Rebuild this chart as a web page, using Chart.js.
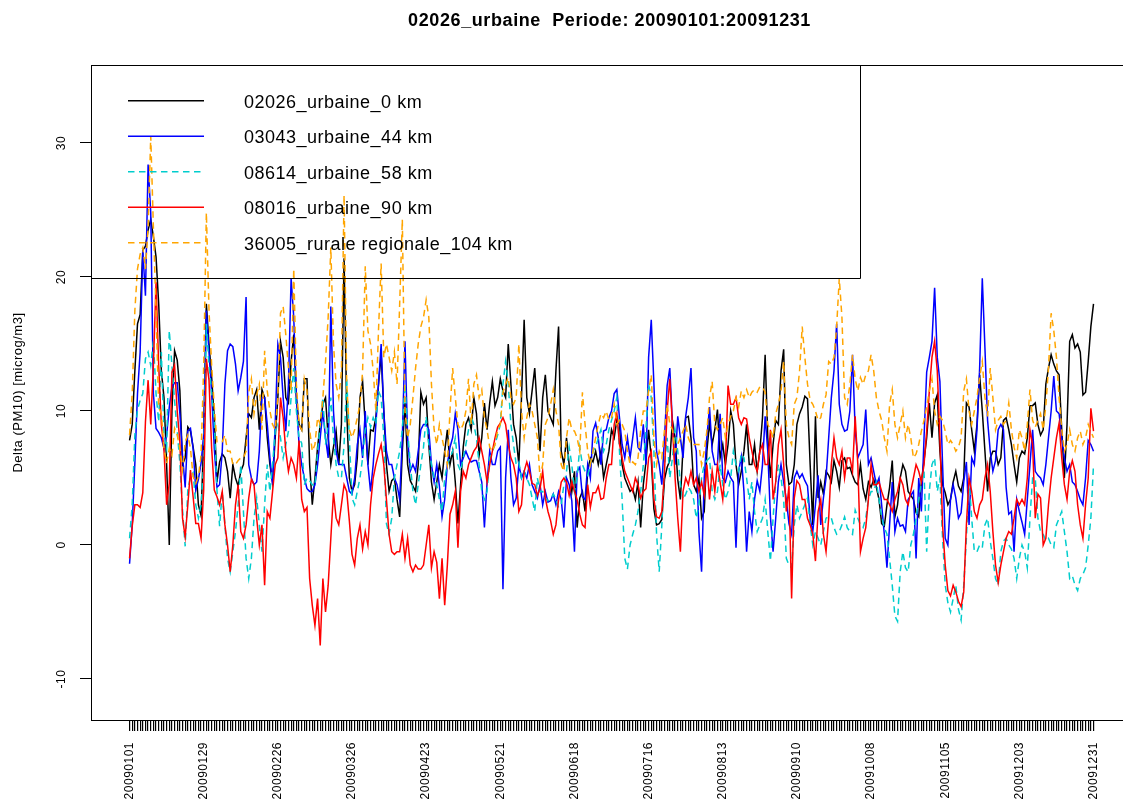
<!DOCTYPE html>
<html>
<head>
<meta charset="utf-8">
<script src="https://cdn.jsdelivr.net/npm/chart.js@4.4.1/dist/chart.umd.min.js"></script>
<style>
  html, body { margin: 0; padding: 0; background: #ffffff; overflow: hidden; }
  #wrap { position: absolute; left: 0; top: 0; width: 1156px; height: 800px; }
</style>
</head>
<body>
<div id="wrap"><canvas id="c" width="1156" height="800"></canvas></div>
<script>
// Daily PM10 deltas, 1 Jan 2009 .. 31 Dec 2009 (365 values per station)
const station02026 = [
  7.8, 9, 13, 16.5, 17.2, 22, 22.3, 23.5, 24.3, 23, 21.5, 18, 13, 11, 6, 0, 10, 14.5, 13.8, 11.5, 6, 6.5, 8.8, 8.5, 7.3, 6, 3, 2.2, 8, 18, 15, 12.5, 9.5, 4.7, 6.2, 6.8,
  6.5, 5.5, 3.5, 6, 5, 4.4, 5.5, 6, 8, 9.8, 9.5, 11, 11.6, 8.6, 11.6, 11, 8, 6, 4.7, 8, 11, 15.2, 14, 11, 10.6, 13.7, 15.7, 11, 9, 8.6, 12.4, 12.4, 6, 3, 5,
  7.3, 9, 10.5, 11, 8, 6, 7.3, 8.5, 6, 9, 21.4, 10, 5, 4, 4.5, 6.5, 11, 12.2, 9, 6, 8.6, 8.5, 9.5, 12, 14.2, 10, 6, 4, 4.8, 5, 3.4, 2.1, 7, 10.6, 6, 4.8,
  4.4, 4, 6, 11.4, 10.5, 11, 7.5, 4.7, 3.4, 4.7, 6, 5, 7, 8.6, 6, 7, 4.7, 1.6, 4.5, 7.3, 9, 9.5, 8.6, 11, 9.8, 6.7, 8, 10.6, 8.6, 10.6, 12.2, 10.4, 11, 12.4, 11.5, 11,
  15, 12, 9, 8, 6, 11, 16.8, 11, 9.8, 11.5, 13.2, 10, 7, 11, 12.7, 10, 9.5, 9, 13, 16.3, 7, 6, 8, 6, 4, 5.5, 1.3, 3.5, 4, 2.5, 5.5, 6.5, 6.2, 7, 6, 7,
  5, 6, 7, 8.6, 8, 9.3, 9, 6, 5, 4.5, 4, 4.2, 3.4, 4.7, 1.3, 4.5, 6.2, 8.6, 6.5, 2.7, 1.5, 1.6, 1.9, 4.9, 5.8, 6.3, 9.3, 8, 4.9, 3.4, 7.3, 9.5, 9.6, 8, 4.5, 4,
  5, 2, 2.5, 7, 9.1, 7.5, 8.6, 10.1, 6.5, 7.5, 6, 7.5, 10, 9, 6, 4.5, 5.5, 7, 9, 6, 6, 7.5, 5.5, 7, 9.5, 14.2, 8, 5, 7.5, 9.3, 9, 13, 14.6, 6, 4.5, 4.7,
  6, 9, 9.8, 10.3, 11.1, 10.9, 6, 1.5, 9.6, 3.5, 4.7, 3.8, 5.5, 5.2, 4.7, 6.3, 5.5, 4.3, 6.3, 6.5, 5.7, 5.8, 5.2, 4.7, 4.5, 6, 4.2, 3.4, 4.7, 4.3, 4.9, 4.3, 3.4, 1.6, 1.4, 3,
  4.3, 6.3, 2.1, 3, 5, 6, 5.5, 4, 3.7, 3.4, 2.4, 2.1, 4.7, 6.3, 8, 10.6, 8, 10.6, 11.2, 7, 4.5, 3.9, 3, 3.4, 4.7, 5.5, 4.4, 4, 5, 10.6, 10.3, 8.6,
  7, 9, 12.7, 10, 7, 4, 6.5, 7, 7, 6, 6.5, 9.3, 9.5, 8.6, 7.5, 6, 4.7, 6.5, 7, 6.8, 8, 10.4, 10.4, 10.6, 9, 8.2, 8.6, 12, 13.2, 14.2, 13.5, 13, 12.7, 8.6, 5, 9, 15.2, 15.7, 14.7, 15, 14.4, 11.2, 11.4, 13.7, 16.3, 18
];
const station03043 = [
  -1.4, 1.5, 6.1, 11.3, 14.4, 22, 18.6, 28.4, 24.8, 11.3, 8.7, 8.4, 8, 7.2, 8.2, 10.3, 11.8, 12.1, 12.1, 9.8, 6.7, 4.3, 8.5, 8.7, 7.2, 4.1, 4.9, 6.1, 8.2, 17.5, 14.4, 11.3, 7.2, 4.3, 4.5, 7,
  12, 14.5, 15, 14.8, 13.5, 11.5, 12.5, 13.7, 18.5, 6, 5, 4.5, 4.7, 7, 11, 11, 9, 6.5, 4.5, 9, 15, 14, 11, 8.5, 12, 19.9, 17, 11, 7.5, 6, 5, 4.2, 4, 4, 4.5,
  6, 8, 10, 8, 6.5, 17.8, 10, 7, 6, 6, 6, 5, 4, 3.8, 5, 7.5, 8.6, 6.5, 10, 6, 4, 6, 9, 12, 15, 10, 7, 6, 6, 5, 4.5, 3.4, 8, 15.2, 8, 5.5,
  6, 5.5, 7, 8.6, 9, 9, 8.6, 6, 4.7, 6, 4.4, 2.1, 3.4, 6, 7.3, 8, 9.8, 8.6, 6, 6.5, 7, 6.5, 6.2, 6.3, 6.3, 5.5, 4.7, 1.3, 4.7, 7, 6, 6, 7, 7.3, -3.3, 5,
  8.6, 5, 3, 3.5, 6, 5, 5.5, 5, 6, 4.5, 4, 3.5, 4.5, 3, 4, 3.2, 3.3, 3.8, 3, 4, 3.4, 1.3, 5, 4.5, 3.3, -0.5, 5.5, 5.8, 3.6, 3.4, 6, 5, 8.5, 9.1, 8, 6,
  8.5, 8.6, 9.5, 10, 11.3, 11.6, 9.5, 7.5, 6.5, 8, 6.5, 8, 9.5, 7.3, 7, 9, 6, 14, 16.8, 12, 7, 6, 4.5, 8, 11.9, 13.2, 9, 6, 9.6, 8, 6.5, 9.6, 11, 13.2, 8, 7,
  1, -2, 5, 8, 10.3, 7, 6, 6, 9.8, 5, 4.7, 5.5, 5, 4.7, -0.2, 5.5, 6.6, 4, -0.5, 2.5, 1, 3.4, 4.8, 4, 6, 9.6, 7, 2.1, -0.5, 2, 4.7, 6, 4.7, 3.4, 1.6, 0.8,
  5, 5.5, 5, 5.3, 4.8, 4.4, 2, 1, 3, 5.2, 1.5, 3.5, 5, 8, 11, 13, 16.5, 10.5, 9, 8.5, 8.6, 10, 14.2, 8.6, 6.5, 7, 7.5, 10.1, 6, 6.5, 5.5, 4.5, 5, 3, 0.8, -1.7,
  1.5, 4.7, 1, 2, 1.4, 1.5, 1, 3.4, 3.7, 4, -1, 5, 2.5, 8, 12.9, 14, 15.2, 19.2, 14, 12.2, 6, 0.5, 0, 3.4, 4.5, 3.5, 2, 2.4, 4.7, 6.2, 1.5, 6.5,
  6, 8.6, 13.2, 19.9, 14.7, 9.3, 7, 5.5, 6.3, 8.6, 9, 8.6, 4.3, 2.3, 2.5, -0.5, 3.4, 2.5, 1.7, 0.8, 3.4, 6, 8.6, 5.5, 5.2, 5, 4.5, 6, 8, 10, 12.6, 10, 9.8, 8, 6.5, 5.5, 6, 4.7, 4.5, 4, 3.4, 3, 5, 7.8, 7.5, 7
];
const station08614 = [
  0.5, 3, 8.2, 10.1, 10.8, 11.3, 13.9, 14.4, 13.4, 15.2, 11.3, 9.2, 14.4, 8.2, 7.2, 16, 13.4, 10.8, 8.5, 6.1, 2.6, -0.1, 4.1, 5.1, 5.4, 3, 2, 3, 6.1, 16.5, 13.4, 11.3, 9.2, 4.1, 1.4, 4,
  1.5, -1, -2, -0.5, 1, 3, 6, 2.5, -1, -2.5, -1, 2, 3.5, 1.5, -0.5, 3, 6, 4, 6, 8.5, 9, 8, 6.5, 7.5, 8.5, 11, 13.2, 10, 8, 7.6, 4.5, 5, 4.8, 4.5, 4.4,
  7, 9, 11, 7.5, 9, 11, 8, 6, 5, 5, 7.5, 12.4, 8, 3.5, 3, 4, 5, 6.5, 8.6, 9.5, 8.8, 9.5, 9, 11.5, 11, 8, 1.6, 0.8, 2, 5, 6, 7, 8.6, 12, 8.6, 6,
  4, 3, 4.5, 6, 7.3, 9.6, 7.5, 6, 5, 4.5, 3.4, 2.5, 5, 6, 6.5, 7, 8, 6, 5.5, 6.5, 7.5, 8.6, 9.6, 9, 8, 6, 4, 3.4, 4, 6.5, 7, 7.5, 8.2, 9, 12, 13.7,
  12, 9, 7.5, 6, 6.2, 5, 5.5, 5, 4.5, 3.5, 2.5, 5, 4, 4, 3.5, 3.3, 3.4, 3.8, 3.4, 2.8, 3, 4.5, 5.5, 7.3, 6, 4, 5, 7.3, 6, 5.5, 5.2, 6, 7, 7.3, 8, 8.6,
  7, 7.5, 8.6, 9.3, 10, 11, 7, 3.4, -1, -1.8, 0, 0.8, 1.5, 2.5, 4, 6, 8.6, 12, 11, 7, 0.8, -2, 1.5, 6, 8, 5, 6.5, 8.6, 7, 4.5, 3.4, 3.8, 4.3, 4, 3.4, 2,
  3, 5, 6, 6.3, 6.5, 4, 3.4, 4, 6, 4.5, 3.4, 4, 5, 7, 6, 5.5, 6.8, 6.5, 5, 3.4, 4.7, 2.5, 1, 1.5, 2, 3.4, 1, -1.2, 2, 4.7, 6, 5, 3.4, -1, -1.5, -1.7,
  1.5, 3, 2, 2.5, 3, 3.5, 1.5, 0, 1, 0.5, 0, 1, 2, 2.1, 2, 1.3, 0.8, 1, 1.5, 2.1, 1.3, 1, 0.8, 2.6, 2, 1.5, 1.3, 2, 3.4, 4, 4, 4.7, 3.4, 2.1, 1.3, 0.8,
  -1, -3, -5.3, -5.7, -2, -0.5, -1.7, -2, 0, 0.8, 2, 3.4, 4.7, 5.5, -0.5, 4, 6, 6.5, 4, 5, 0.5, -3, -4.3, -5, -4, -3, -4.8, -5.6, -3, 0.5, 5, 2,
  -0.5, -0.5, 0, -0.2, 1.5, 2, 0.3, -1, -2.5, -3, -0.5, 0.3, 0.5, 0, -0.3, -1, -2.5, -1, 0, -0.5, -1.7, 2, 5, 5, 2, 1, 0.8, 0.3, 0.5, 0, -0.2, 1.5, 2, 2.5, 1, -0.5, -2.5, -2.3, -3, -3.4, -2.5, -2.2, -1.7, 0, 2, 6
];
const station08016 = [
  -1, 1.4, 3, 3, 2.8, 3.9, 9.2, 12.3, 9, 13.4, 19.6, 13.4, 9, 7.1, 3, 4.6, 12.9, 13.4, 10, 7.7, 2, 0.6, 3, 5.6, 3.6, 1.6, 1.6, 0.5, 4.1, 13.9, 12.3, 7.2, 4.1, 3.6, 3, 4,
  1.5, 0, -2, 0, 3, 4.5, 1, 0.5, 1.5, 3.5, 4.9, 4.5, 2, 0, 1.5, -3, 2.5, 2, 4, 6, 6.5, 11, 9.5, 7, 5.5, 6.5, 6, 5, 7.8, 3.4, 2.5, 2.8, -2.5, -4.5, -6,
  -4, -7.5, -2.5, -5, -3, 0.5, 3.9, 2, 1.5, 3, 4.5, 4, 1.8, -0.7, -1.5, 0.5, 1.5, -0.3, 1, 0, 3, 5, 6, 6.8, 7.5, 6, 3.4, 0.8, -0.5, -0.7, -0.5, -0.5, 0.8, -1, 0.5, -1.5,
  -2, -1.5, -1.8, -1.8, -1.5, 0, 1.5, -1.7, -0.5, -1.3, -4, -1, -4.5, -1.5, 2.3, 3, 4, -0.2, 4, 5.5, 5, 6, 6.5, 7, 7.3, 8, 7, 6, 4.7, 6, 7, 8, 8.8, 9.1, 9.5, 9,
  7.5, 6.5, 6, 5, 2.5, 3, 5.5, 6.2, 5.5, 4.6, 4.5, 3.7, 4.2, 5.5, 3.5, 2.5, 1.8, 0.8, 1.5, 3.4, 4.7, 5, 4.7, 3.7, 4.7, 4, 3.4, 2.3, 1.5, 1.3, 4.5, 2.8, 3.9, 3.9, 4.4, 3.4,
  3.5, 5, 6, 6, 9, 9.8, 7.5, 6.5, 5.5, 5, 4.5, 4, 5, 4.5, 3.5, 4, 4.2, 6.5, 7, 3.4, 2.1, 2, 2.5, 5.5, 10, 12.4, 9, 5, 2, -0.5, 4, 5, 4.5, 5.5, 4.5, 5,
  4, 4.7, 3.7, 6, 3.4, 5.5, 4, 6, 4.7, 3.4, 6, 11.9, 10.5, 10.5, 11, 9.5, 9, 9.5, 9.4, 8, 7, 6, 5.5, 7, 7.5, 6, 6, 8.6, 3.4, 4.7, 7.5, 8.6, 6, 2.5, 4.4, -4,
  3.5, 4.8, 4.5, 3.4, 3.4, 2, 1.5, 0.8, -1.2, 2.5, 3.4, 0.8, -0.5, 2, 6, 8, 6.5, 6, 7, 5, 6.5, 6.5, 5.5, 9.6, 6, -0.5, 0.5, 1.3, 3.4, 6, 4.5, 4.5, 4.7, 4, 3.4, 3.4,
  3, 2.5, 3.4, 4, 5, 4.5, 3.4, 3, 4, 5, 6, 5.5, 4.7, 6, 8.5, 11.5, 14, 15.2, 13, 8, 1.5, -1.5, -3.4, -3.8, -3, -3.5, -4.2, -4.6, -3.5, 1.5, 5, 4,
  2.5, 2, 3, 3.4, 5, 6, 4, 1, -1.5, -2.8, -1.5, -0.5, 0.5, 1, 0.8, 2, 3.4, 3, 3.4, 3, 5, 8.6, 7.5, 2, 3.8, 3.5, 0, 0.5, 3, 5, 6.5, 8, 9.1, 6.5, 4.5, 3.4, 5.5, 6.3, 5.5, 3, 1.5, 0.5, 3, 5, 10.2, 8.5
];
const station36005 = [
  8.2, 11.3, 17.5, 20.6, 21.7, 22.2, 20.6, 23.7, 30.5, 23.7, 17.5, 10.3, 9.8, 7.2, 6.1, 7.2, 6.7, 8.7, 8.2, 7.2, 5.6, 7.7, 8.2, 7.2, 5.1, 4.6, 5.1, 6.7, 13.4, 24.8, 17.5, 13.4, 10.3, 7.7, 7.7, 7.7,
  8.2, 7, 7, 6, 6, 6.3, 6.5, 6.5, 7, 11.4, 12.4, 9.8, 11.2, 12, 8.6, 14.5, 11.5, 10, 9, 8.6, 11, 17.3, 17.8, 15.7, 13.2, 11.5, 20.6, 12, 9, 8.6, 12.4, 11.5, 8.6, 7, 7.5,
  9.5, 9, 11, 13.7, 17, 22.2, 15, 12, 11, 13, 26.1, 12, 8.6, 8, 8.6, 9.5, 10.5, 13, 20.8, 16, 15, 13, 10, 16, 21, 14, 15, 14, 13, 14.4, 12, 18, 24.3, 10, 8, 9,
  11, 13.2, 15, 16.3, 17, 18.3, 17, 12, 8.6, 7.5, 9, 8, 7, 6, 10, 13.2, 11, 9, 8.6, 9, 10, 12.4, 9, 12, 12.7, 11, 11.6, 9.5, 8.6, 7.3, 7, 7.5, 8.6, 9, 11.4, 12,
  12.5, 11, 10.5, 11, 15, 10, 8, 9.5, 10.5, 10, 9, 8, 5, 6, 9, 9.5, 10.5, 11.6, 10, 9, 6, 5.5, 8, 9.5, 8.6, 8.5, 8, 7, 11.4, 9, 7, 6, 7, 8, 9, 9.8,
  9.5, 10, 9.3, 9.5, 10.5, 9, 9.3, 9, 8.5, 7, 6, 6.2, 6, 6.5, 8.6, 10, 10, 11.5, 12.7, 8, 6, 7, 6.5, 8.6, 10.5, 9, 8.6, 7, 7.5, 8, 8.5, 9, 8, 7.5, 7.5, 7.5,
  7.5, 6, 7, 8.5, 11, 12.2, 9, 8.6, 9, 9.5, 8, 9, 9.6, 10, 11, 10.3, 11.5, 11, 11.6, 11, 11.4, 11.6, 11.4, 11.8, 11.8, 11.4, 9, 8.6, 8, 9.8, 10.5, 11.5, 13.7, 9, 8, 7.5,
  10.5, 11, 13, 16.3, 14, 12, 10.8, 10.5, 10, 9.3, 9.5, 10.5, 11.2, 13.7, 13.5, 14, 16.3, 19.9, 17, 11, 10.5, 12, 14.2, 12.4, 11.5, 12.5, 12, 12.7, 13, 14.2, 13, 11, 10, 9.3, 8, 7,
  10.5, 11.6, 9, 8, 9, 10, 8, 9, 8, 6.5, 6.8, 7.5, 8.5, 9.3, 10.3, 11.5, 12.4, 10, 9, 9.6, 9.3, 8.5, 7.5, 7.8, 7.5, 7, 7.3, 8, 11.5, 12.4, 10, 9,
  10, 11, 12.5, 13.7, 11, 9.6, 13.2, 11, 8.6, 9.3, 9.6, 9, 9.3, 10.6, 8.6, 7.3, 6.5, 8.6, 8, 7, 9, 11.6, 9.3, 8.8, 9.3, 9.8, 8.6, 10.4, 13.2, 17.3, 16, 14, 11, 8.6, 7, 7.5, 8.6, 7.5, 7, 8, 8.5, 7.5, 8, 9, 8.5, 8
];

const seriesNames = [
  '02026_urbaine_0 km',
  '03043_urbaine_44 km',
  '08614_urbaine_58 km',
  '08016_urbaine_90 km',
  '36005_rurale regionale_104 km'
];
// Labelled dates, one every 28 days starting on day 0
const tickLabels = [
  '20090101', '20090129', '20090226', '20090326', '20090423', '20090521', '20090618',
  '20090716', '20090813', '20090910', '20091008', '20091105', '20091203', '20091231'
];
const chartTitle = '02026_urbaine  Periode: 20090101:20091231';
const yTitle = 'Delta (PM10) [microg/m3]';

const stations = [station02026, station03043, station08614, station08016, station36005];
stations.forEach((s, i) => {
  if (s.length !== 365) throw new Error(seriesNames[i] + ' has ' + s.length + ' values');
});

const styles = [
  { color: '#000000', dash: [] },
  { color: '#0000ff', dash: [] },
  { color: '#00cdcd', dash: [6.5, 4.5] },
  { color: '#ff0000', dash: [] },
  { color: '#ffa500', dash: [6.5, 4.5] }
];

const FONT = '"Liberation Sans", Arial, Helvetica, sans-serif';
const LAST_DAY = 364;
const LABEL_STEP = 28;
const LINE_W = 1.5;

function isDay(v) {
  return v !== undefined && Math.abs(v - Math.round(v)) < 1e-6 && v >= -1e-6 && v <= LAST_DAY + 1e-6;
}
function dayLabel(v) {
  if (!isDay(v)) return '';
  const d = Math.round(v);
  return d % LABEL_STEP === 0 ? tickLabels[d / LABEL_STEP] : '';
}

const datasets = stations.map((vals, i) => ({
  label: seriesNames[i],
  data: vals.map((v, d) => ({ x: d, y: v })),
  borderColor: styles[i].color,
  borderDash: styles[i].dash,
  borderWidth: LINE_W,
  pointRadius: 0,
  tension: 0,
  fill: false,
  order: stations.length - i
}));

// Text spacing close to the original device fonts
const spacing = {
  id: 'spacing',
  beforeDraw(chart) { chart.ctx.letterSpacing = '0.5px'; }
};

// Plot frame, main title and the boxed key in the upper-left corner
const frame = {
  id: 'frame',
  afterDraw(chart) {
    const { ctx, chartArea: a } = chart;
    ctx.save();
    ctx.strokeStyle = '#000';
    ctx.lineWidth = 1;
    ctx.setLineDash([]);
    ctx.strokeRect(Math.round(a.left) + 0.5, Math.round(a.top) + 0.5,
                   Math.round(a.right - a.left), Math.round(a.bottom - a.top));

    ctx.fillStyle = '#000';
    ctx.letterSpacing = '0.6px';
    ctx.font = 'bold 18px ' + FONT;
    ctx.textAlign = 'center';
    ctx.textBaseline = 'alphabetic';
    ctx.fillText(chartTitle, (a.left + a.right) / 2 - 2, 25.5);

    const boxL = Math.round(a.left) + 0.5, boxT = Math.round(a.top) + 0.5;
    const boxW = 769, boxH = 213;
    ctx.beginPath();
    ctx.moveTo(boxL, boxT + boxH);
    ctx.lineTo(boxL + boxW, boxT + boxH);
    ctx.lineTo(boxL + boxW, boxT);
    ctx.stroke();

    ctx.font = '18px ' + FONT;
    ctx.letterSpacing = '0.5px';
    ctx.textAlign = 'left';
    seriesNames.forEach((name, i) => {
      const y = a.top + 35.7 + i * 35.5;
      ctx.strokeStyle = styles[i].color;
      ctx.lineWidth = LINE_W;
      ctx.setLineDash(styles[i].dash);
      ctx.beginPath();
      ctx.moveTo(a.left + 37, y);
      ctx.lineTo(a.left + 113, y);
      ctx.stroke();
      ctx.fillStyle = '#000';
      ctx.fillText(name, a.left + 153, y + 6.8);
    });
    ctx.restore();
  }
};

new Chart(document.getElementById('c'), {
  type: 'line',
  data: { datasets },
  plugins: [spacing, frame],
  options: {
    responsive: false,
    animation: false,
    devicePixelRatio: 1,
    parsing: false,
    layout: { padding: { top: 65, right: 8, bottom: 0, left: 0 } },
    plugins: { legend: { display: false }, tooltip: { enabled: false }, title: { display: false } },
    scales: {
      x: {
        type: 'linear',
        min: -14.56,
        max: 378.56,
        afterFit(scale) { scale.height = 80; },
        border: { display: true, color: '#000', width: 1 },
        grid: {
          drawOnChartArea: false,
          drawTicks: true,
          tickLength: 11,
          lineWidth: 1.2,
          color: ctx => (ctx.tick && isDay(ctx.tick.value)) ? '#000' : 'rgba(0,0,0,0)',
          tickColor: ctx => (ctx.tick && isDay(ctx.tick.value)) ? '#000' : 'rgba(0,0,0,0)'
        },
        ticks: {
          stepSize: 1,
          autoSkip: false,
          includeBounds: false,
          minRotation: 90,
          maxRotation: 90,
          padding: 11,
          color: '#000',
          font: { family: FONT, size: 12 },
          callback: v => dayLabel(v)
        }
      },
      y: {
        type: 'linear',
        min: -13.06,
        max: 35.82,
        afterFit(scale) { scale.width = 91; },
        border: { display: true, color: '#000', width: 1 },
        grid: { drawOnChartArea: false, drawTicks: true, tickLength: 11, color: '#000', tickColor: '#000' },
        ticks: {
          stepSize: 10,
          includeBounds: false,
          minRotation: 90,
          maxRotation: 90,
          crossAlign: 'center',
          padding: 10,
          color: '#000',
          font: { family: FONT, size: 12 }
        },
        title: {
          display: true,
          text: yTitle,
          color: '#000',
          font: { family: FONT, size: 13 },
          padding: { top: 11, bottom: 0 }
        }
      }
    }
  }
});
</script>
</body>
</html>
